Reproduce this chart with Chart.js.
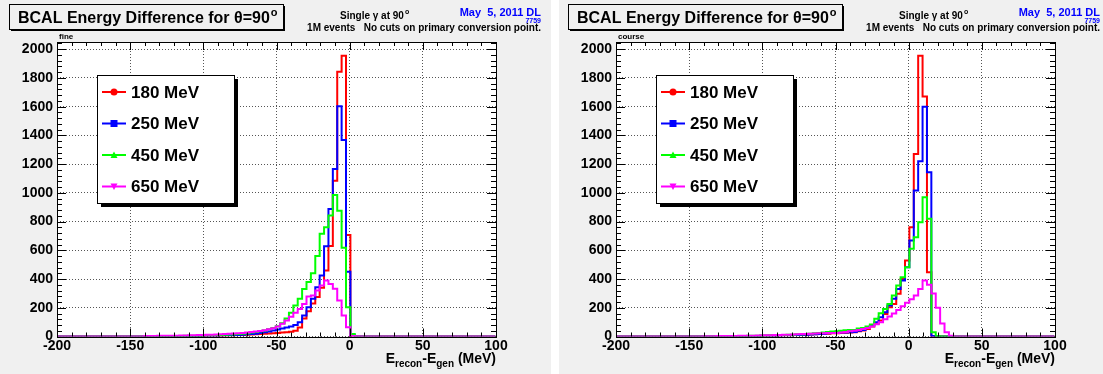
<!DOCTYPE html>
<html>
<head>
<meta charset="utf-8">
<script src="https://cdn.jsdelivr.net/npm/chart.js@4.4.0/dist/chart.umd.min.js"></script>
<style>
  html, body { margin: 0; padding: 0; background: #ffffff; overflow: hidden; }
  .pad { position: absolute; top: 0; width: 551px; height: 374px; background: #f0f0f0; }
  #padFine { left: 0; }
  #padCourse { left: 559px; }
</style>
</head>
<body>
<div class="pad" id="padFine"><canvas id="fineChart" width="551" height="374"></canvas></div>
<div class="pad" id="padCourse"><canvas id="courseChart" width="551" height="374"></canvas></div>
<script>
// photon energies and the colours/markers used for each histogram
const energies = ['180 MeV', '250 MeV', '450 MeV', '650 MeV'];
const lineColors = ['#ff0000', '#0000ff', '#00ff00', '#ff00ff'];
const markers = ['circle', 'square', 'triUp', 'triDown'];

// binning: 100 bins of 3 MeV from -200.5 to 99.5, counts listed from firstEdge on
const histMin = -200.5;
const histMax = 99.5;
const binWidth = 3;
const firstEdge = -140.5;

// axis labels
const xTicks = [-200, -150, -100, -50, 0, 50, 100];
const yTicks = [0, 200, 400, 600, 800, 1000, 1200, 1400, 1600, 1800, 2000];

// "fine" sample, counts per bin starting at firstEdge
const fine180 = [1, 1, 1, 1, 1, 2, 2, 2, 2, 3, 3, 3, 4, 4, 5, 5, 6, 6, 7, 8,
  9, 10, 11, 12, 14, 15, 17, 19, 21, 23, 25, 27, 30, 33, 40, 62, 125, 175, 230, 275,
  340, 460, 630, 1085, 1843, 1955, 707, 5, 1, 0];
const fine250 = [1, 1, 1, 2, 2, 2, 2, 3, 3, 3, 3, 4, 4, 5, 5, 6, 6, 7, 8, 9,
  10, 11, 13, 15, 17, 20, 24, 29, 35, 42, 48, 55, 62, 69, 80, 99, 146, 204, 262, 343,
  424, 628, 888, 1166, 1602, 1368, 450, 8, 1, 0];
const fine450 = [2, 2, 3, 3, 3, 3, 4, 4, 4, 5, 5, 6, 6, 7, 8, 9, 10, 11, 12, 14,
  16, 18, 20, 23, 27, 31, 36, 42, 50, 60, 72, 92, 125, 165, 215, 262, 331, 380, 440, 560,
  715, 760, 842, 985, 876, 618, 204, 18, 2, 0];
const fine650 = [4, 4, 4, 5, 5, 5, 6, 6, 7, 7, 8, 9, 10, 11, 12, 13, 14, 15, 17, 19,
  21, 23, 25, 28, 31, 35, 39, 44, 50, 58, 70, 88, 112, 138, 165, 192, 227, 278, 285, 320,
  355, 390, 366, 332, 250, 146, 65, 4, 1, 0];

// "course" sample, same binning
const course180 = [1, 1, 1, 1, 2, 2, 2, 2, 3, 3, 3, 4, 4, 5, 5, 6, 6, 7, 8, 9,
  10, 11, 12, 13, 14, 15, 17, 19, 20, 22, 23, 25, 26, 28, 30, 36, 42, 53, 69, 88,
  111, 157, 204, 227, 297, 401, 529, 760, 1271, 1955, 1670, 447, 3, 0, 0, 0, 0];
const course250 = [1, 1, 1, 1, 2, 2, 2, 2, 3, 3, 3, 4, 4, 5, 5, 6, 6, 7, 8, 9,
  10, 11, 12, 13, 14, 16, 18, 20, 22, 24, 25, 27, 28, 30, 32, 40, 46, 60, 76, 99,
  134, 169, 215, 262, 331, 389, 482, 668, 1016, 1220, 1600, 1143, 3, 0, 0, 0, 0];
const course450 = [1, 1, 2, 2, 2, 3, 3, 3, 4, 4, 5, 5, 6, 6, 7, 8, 9, 10, 11, 12,
  13, 15, 16, 18, 20, 22, 25, 28, 31, 34, 37, 40, 43, 45, 45, 55, 60, 69, 83, 123,
  162, 192, 227, 285, 355, 413, 482, 610, 691, 795, 969, 820, 30, 2, 0, 0, 0];
const course650 = [2, 2, 2, 3, 3, 3, 4, 4, 5, 5, 6, 6, 7, 7, 8, 9, 10, 11, 12, 13,
  14, 15, 17, 18, 20, 21, 22, 23, 24, 25, 25, 28, 32, 36, 40, 45, 52, 60, 70, 85,
  100, 120, 140, 160, 185, 210, 235, 260, 285, 330, 390, 360, 300, 200, 90, 30, 5];

const FONT = "'Liberation Sans', Arial, Helvetica, sans-serif";

// step outline of a histogram: each point is a bin's left edge
function histPoints(counts) {
  const pts = [{ x: histMin, y: 0 }];
  counts.forEach((c, i) => pts.push({ x: firstEdge + i * binWidth, y: c }));
  pts.push({ x: firstEdge + counts.length * binWidth, y: 0 });
  pts.push({ x: histMax, y: 0 });
  return pts;
}

function makeDatasets(series) {
  return series.map((counts, i) => ({
    label: energies[i],
    data: histPoints(counts),
    borderColor: lineColors[i],
    borderWidth: 2,
    borderJoinStyle: 'miter',
    pointRadius: 0,
    stepped: true,
    fill: false,
    order: series.length - i
  }));
}

function drawMarker(ctx, kind, x, y, color) {
  ctx.fillStyle = color;
  ctx.beginPath();
  if (kind === 'circle') {
    ctx.arc(x, y, 3.5, 0, Math.PI * 2);
  } else if (kind === 'square') {
    ctx.rect(x - 3.5, y - 3.5, 7, 7);
  } else if (kind === 'triUp') {
    ctx.moveTo(x, y - 3.5); ctx.lineTo(x + 3.5, y + 3); ctx.lineTo(x - 3.5, y + 3);
  } else {
    ctx.moveTo(x, y + 3.5); ctx.lineTo(x + 3.5, y - 3); ctx.lineTo(x - 3.5, y - 3);
  }
  ctx.closePath();
  ctx.fill();
}

// text followed by a small raised "o" (degree sign as ROOT draws it)
function textWithDegree(ctx, text, x, y, size, supSize, rise) {
  ctx.font = 'bold ' + size + 'px ' + FONT;
  ctx.fillText(text, x, y);
  const w = ctx.measureText(text).width;
  ctx.font = 'bold ' + supSize + 'px ' + FONT;
  ctx.fillText('o', x + w + 1, y - rise);
}

// ROOT style pad: white frame, inner ticks on all sides, title box, legend, labels
const rootPad = {
  id: 'rootPad',
  beforeDraw(chart) {
    const { ctx, chartArea: a } = chart;
    ctx.save();
    ctx.fillStyle = '#ffffff';
    ctx.fillRect(a.left, a.top, a.right - a.left, a.bottom - a.top);
    ctx.restore();
  },
  afterDraw(chart, args, opts) {
    const { ctx, chartArea: a, scales } = chart;
    const xs = scales.x, ys = scales.y;
    ctx.save();

    // ticks on all four sides
    ctx.strokeStyle = '#000';
    ctx.lineWidth = 1;
    ctx.beginPath();
    for (let v = -200; v <= 100; v += 10) {
      const px = Math.round(xs.getPixelForValue(v)) + 0.5;
      const len = v % 50 === 0 ? 8 : 4;
      ctx.moveTo(px, a.bottom); ctx.lineTo(px, a.bottom - len);
      ctx.moveTo(px, a.top); ctx.lineTo(px, a.top + len);
    }
    for (let v = 0; v <= 2040; v += 40) {
      const py = Math.round(ys.getPixelForValue(v)) + 0.5;
      const len = v % 200 === 0 ? 9 : 5;
      ctx.moveTo(a.left, py); ctx.lineTo(a.left + len, py);
      ctx.moveTo(a.right, py); ctx.lineTo(a.right - len, py);
    }
    ctx.stroke();
    ctx.strokeRect(Math.round(a.left) + 0.5, Math.round(a.top) + 0.5,
      Math.round(a.right - a.left), Math.round(a.bottom - a.top));

    // title box with shadow
    const tb = { x: 9, y: 4, w: 274, h: 25 };
    ctx.fillStyle = '#000';
    ctx.fillRect(tb.x + 2, tb.y + 2, tb.w, tb.h);
    ctx.fillStyle = '#f0f0f0';
    ctx.fillRect(tb.x, tb.y, tb.w, tb.h);
    ctx.strokeRect(tb.x + 0.5, tb.y + 0.5, tb.w, tb.h);
    ctx.fillStyle = '#000';
    ctx.textBaseline = 'alphabetic';
    ctx.textAlign = 'left';
    textWithDegree(ctx, 'BCAL Energy Difference for \u03b8=90', 18, 23, 16, 11, 7);

    // run notes at the top right
    textWithDegree(ctx, 'Single \u03b3 at 90', 340, 19, 10, 7, 5);
    ctx.font = 'bold 10px ' + FONT;
    ctx.textAlign = 'right';
    ctx.fillText('1M events   No cuts on primary conversion point.', 541, 31);
    ctx.fillStyle = '#0000ff';
    ctx.font = 'bold 11px ' + FONT;
    ctx.fillText('May  5, 2011 DL', 541, 16);
    ctx.font = 'bold 7px ' + FONT;
    ctx.fillText('7759', 541, 23);

    // sample name above the frame
    ctx.fillStyle = '#000';
    ctx.textAlign = 'left';
    ctx.font = 'bold 8px ' + FONT;
    ctx.fillText(opts.sample, a.left + 2, 39);

    // x axis title E_recon - E_gen (MeV), right aligned to the frame
    const parts = [['E', 14, 0], ['recon', 10, 4], ['-E', 14, 0], ['gen', 10, 4], [' (MeV)', 14, 0]];
    let total = 0;
    parts.forEach(p => { ctx.font = 'bold ' + p[1] + 'px ' + FONT; total += ctx.measureText(p[0]).width; });
    let cx = a.right - total;
    parts.forEach(p => {
      ctx.font = 'bold ' + p[1] + 'px ' + FONT;
      ctx.fillText(p[0], cx, 363 + p[2]);
      cx += ctx.measureText(p[0]).width;
    });

    // legend box
    const lb = { x: a.left + 40, y: 75, w: 137, h: 128 };
    ctx.fillStyle = '#000';
    ctx.fillRect(lb.x + 4, lb.y + 4, lb.w, lb.h);
    ctx.fillStyle = '#fff';
    ctx.fillRect(lb.x, lb.y, lb.w, lb.h);
    ctx.strokeStyle = '#000';
    ctx.strokeRect(lb.x + 0.5, lb.y + 0.5, lb.w, lb.h);
    chart.data.datasets.forEach((ds, i) => {
      const ry = lb.y + 17 + i * 31.5;
      ctx.strokeStyle = ds.borderColor;
      ctx.lineWidth = 2;
      ctx.beginPath();
      ctx.moveTo(lb.x + 5, ry); ctx.lineTo(lb.x + 29, ry);
      ctx.stroke();
      drawMarker(ctx, markers[i], lb.x + 17, ry, ds.borderColor);
      ctx.fillStyle = '#000';
      ctx.font = 'bold 17px ' + FONT;
      ctx.textBaseline = 'middle';
      ctx.fillText(ds.label, lb.x + 34, ry + 1);
      ctx.textBaseline = 'alphabetic';
    });
    ctx.restore();
  }
};

const tickFont = { family: FONT, size: 14, weight: 'bold' };
const plainNumber = v => String(v);

function makeChart(id, sample, series) {
  return new Chart(document.getElementById(id).getContext('2d'), {
    type: 'line',
    data: { datasets: makeDatasets(series) },
    options: {
      responsive: false,
      animation: false,
      layout: { padding: { top: 42, right: 55, bottom: 0, left: 0 } },
      plugins: {
        legend: { display: false },
        tooltip: { enabled: false },
        rootPad: { sample: sample }
      },
      scales: {
        x: {
          type: 'linear', min: -200, max: 100,
          ticks: { font: tickFont, color: '#000', padding: 1, maxRotation: 0,
            autoSkip: false, callback: plainNumber },
          grid: { color: '#555', drawTicks: false },
          border: { display: false, dash: [1, 2] },
          afterBuildTicks: s => { s.ticks = xTicks.map(v => ({ value: v })); },
          afterFit: s => { s.height = 37.5; }
        },
        y: {
          min: 0, max: 2050,
          ticks: { font: tickFont, color: '#000', padding: 4, autoSkip: false, callback: plainNumber },
          grid: { color: '#555', drawTicks: false },
          border: { display: false, dash: [1, 2] },
          afterBuildTicks: s => { s.ticks = yTicks.map(v => ({ value: v })); },
          afterFit: s => { s.width = 57; }
        }
      }
    },
    plugins: [rootPad]
  });
}

makeChart('fineChart', 'fine', [fine180, fine250, fine450, fine650]);
makeChart('courseChart', 'course', [course180, course250, course450, course650]);
</script>
</body>
</html>
